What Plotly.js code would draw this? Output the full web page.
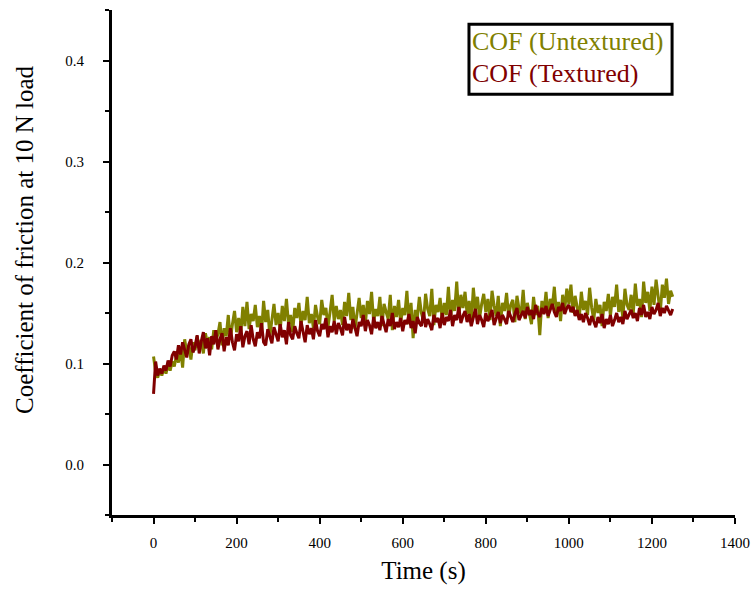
<!DOCTYPE html>
<html>
<head>
<meta charset="utf-8">
<script src="https://cdn.plot.ly/plotly-3.0.1.min.js"></script>
<style>html,body{margin:0;padding:0;background:#fff;}#chart{width:756px;height:593px;}</style>
</head>
<body>
<div id="chart"></div>
<script>
// Sampling of both series (seconds)
const startTime = 0;
const sampleStep = 5;

const seriesNames = ["COF (Untextured)", "COF (Textured)"];

const cofUntextured = [
0.107,0.092,0.086,0.094,0.088,0.096,0.090,0.099,0.093,0.102,
0.097,0.108,0.101,0.115,0.096,0.124,0.110,0.118,0.104,0.121,
0.113,0.127,0.116,0.123,0.110,0.130,0.119,0.126,0.114,0.133,
0.122,0.129,0.141,0.118,0.135,0.127,0.148,0.124,0.139,0.152,
0.131,0.145,0.128,0.156,0.137,0.161,0.134,0.149,0.142,0.158,
0.136,0.147,0.130,0.162,0.141,0.153,0.127,0.144,0.159,0.138,
0.150,0.133,0.157,0.142,0.164,0.139,0.148,0.131,0.155,0.145,
0.160,0.137,0.152,0.143,0.166,0.140,0.149,0.135,0.158,0.146,
0.139,0.163,0.148,0.155,0.136,0.151,0.168,0.142,0.157,0.144,
0.153,0.138,0.161,0.147,0.170,0.143,0.156,0.134,0.150,0.165,
0.145,0.158,0.139,0.162,0.149,0.171,0.141,0.154,0.147,0.166,
0.137,0.159,0.151,0.144,0.168,0.133,0.157,0.146,0.163,0.140,
0.155,0.148,0.172,0.139,0.160,0.125,0.153,0.145,0.166,0.150,
0.142,0.169,0.154,0.147,0.174,0.138,0.158,0.151,0.165,0.143,
0.160,0.148,0.176,0.144,0.163,0.152,0.181,0.146,0.168,0.155,
0.171,0.149,0.162,0.140,0.175,0.153,0.166,0.145,0.159,0.169,
0.151,0.164,0.143,0.172,0.157,0.147,0.167,0.137,0.160,0.152,
0.170,0.146,0.158,0.163,0.141,0.167,0.154,0.149,0.173,0.144,
0.160,0.151,0.139,0.166,0.148,0.157,0.128,0.162,0.150,0.171,
0.145,0.164,0.155,0.176,0.149,0.161,0.142,0.168,0.153,0.174,
0.159,0.178,0.150,0.167,0.156,0.145,0.171,0.153,0.162,0.148,
0.175,0.155,0.143,0.164,0.150,0.158,0.137,0.161,0.152,0.169,
0.147,0.166,0.156,0.178,0.151,0.163,0.145,0.174,0.158,0.153,
0.168,0.149,0.179,0.157,0.164,0.146,0.181,0.160,0.171,0.152,
0.176,0.158,0.183,0.163,0.150,0.178,0.165,0.184,0.159,0.172,
0.166
];

const cofTextured = [
0.070,0.102,0.088,0.095,0.090,0.098,0.093,0.103,0.097,0.108,
0.112,0.104,0.118,0.109,0.121,0.113,0.106,0.119,0.124,0.111,
0.117,0.128,0.110,0.122,0.131,0.115,0.125,0.108,0.127,0.119,
0.133,0.114,0.124,0.130,0.112,0.126,0.118,0.135,0.121,0.113,
0.129,0.122,0.137,0.116,0.127,0.132,0.119,0.138,0.124,0.117,
0.131,0.125,0.140,0.121,0.118,0.134,0.127,0.120,0.136,0.129,
0.122,0.139,0.126,0.133,0.119,0.141,0.128,0.124,0.137,0.130,
0.125,0.142,0.131,0.121,0.138,0.129,0.135,0.124,0.143,0.132,
0.127,0.139,0.134,0.145,0.126,0.137,0.131,0.142,0.129,0.140,
0.135,0.128,0.146,0.133,0.139,0.130,0.144,0.136,0.127,0.141,
0.137,0.148,0.132,0.143,0.138,0.129,0.146,0.135,0.141,0.133,
0.147,0.139,0.131,0.144,0.137,0.150,0.134,0.141,0.136,0.145,
0.132,0.143,0.139,0.149,0.135,0.142,0.130,0.146,0.140,0.137,
0.151,0.136,0.144,0.139,0.133,0.148,0.141,0.145,0.135,0.150,
0.138,0.146,0.142,0.153,0.137,0.148,0.143,0.156,0.140,0.147,
0.152,0.141,0.149,0.137,0.145,0.154,0.139,0.148,0.143,0.136,
0.150,0.142,0.147,0.153,0.138,0.145,0.151,0.140,0.148,0.144,
0.139,0.152,0.146,0.141,0.149,0.155,0.143,0.147,0.152,0.145,
0.156,0.148,0.153,0.144,0.158,0.150,0.146,0.155,0.149,0.157,
0.147,0.153,0.159,0.151,0.146,0.156,0.152,0.160,0.149,0.155,
0.158,0.151,0.156,0.147,0.153,0.143,0.149,0.141,0.150,0.145,
0.138,0.147,0.142,0.136,0.146,0.140,0.149,0.135,0.144,0.139,
0.148,0.137,0.143,0.150,0.141,0.146,0.139,0.152,0.144,0.148,
0.153,0.145,0.150,0.142,0.155,0.148,0.158,0.146,0.151,0.144,
0.156,0.149,0.153,0.160,0.147,0.155,0.150,0.157,0.152,0.148,
0.154
];

const xTickVals = [0, 200, 400, 600, 800, 1000, 1200, 1400];
const yTickVals = [0.0, 0.1, 0.2, 0.3, 0.4];

const olive = "#808000";
const maroon = "#800000";
const serif = "Liberation Serif, Times New Roman, serif";

const traces = [
  {type: "scatter", mode: "lines", name: seriesNames[0], x0: startTime, dx: sampleStep, y: cofUntextured,
   line: {color: olive, width: 3}, showlegend: false},
  {type: "scatter", mode: "lines", name: seriesNames[1], x0: startTime, dx: sampleStep, y: cofTextured,
   line: {color: maroon, width: 3}, showlegend: false}
];

const layout = {
  width: 756, height: 593,
  margin: {l: 112, r: 21, t: 10, b: 78},
  paper_bgcolor: "#fff", plot_bgcolor: "#fff",
  showlegend: false,
  xaxis: {
    range: [-100, 1400], tickvals: xTickVals, ticktext: xTickVals.map(String),
    ticks: "outside", ticklen: 6, tickwidth: 2, tickcolor: "#000",
    minor: {dtick: 100, ticks: "outside", ticklen: 4, tickwidth: 2, tickcolor: "#000"},
    showline: true, linecolor: "#000", linewidth: 3, mirror: false,
    showgrid: false, zeroline: false,
    tickfont: {family: serif, size: 15, color: "#000"},
    ticklabelstandoff: 6,
    title: {text: "Time (s)", font: {family: serif, size: 25, color: "#000"}, standoff: 12}
  },
  yaxis: {
    range: [-0.05, 0.45], tickvals: yTickVals, tickformat: ".1f",
    ticks: "outside", ticklen: 6, tickwidth: 2, tickcolor: "#000",
    minor: {dtick: 0.05, ticks: "outside", ticklen: 4, tickwidth: 2, tickcolor: "#000"},
    showline: true, linecolor: "#000", linewidth: 3, mirror: false,
    showgrid: false, zeroline: false,
    tickfont: {family: serif, size: 15, color: "#000"},
    ticklabelstandoff: 16
  },
  shapes: [
    {type: "rect", xref: "paper", yref: "paper", x0: 0.573, x1: 0.899, y0: 0.833, y1: 0.972,
     line: {color: "#000", width: 3}, fillcolor: "rgba(255,255,255,0)"}
  ],
  annotations: [
    {xref: "paper", yref: "paper", x: -0.1396, y: 0.5446, xanchor: "center", yanchor: "middle", showarrow: false,
     textangle: -90, text: "Coefficient of friction at 10 N load", font: {family: serif, size: 25, color: "#000"}},
    {xref: "paper", yref: "paper", x: 0.575, y: 0.937, xanchor: "left", yanchor: "middle", showarrow: false,
     text: seriesNames[0], font: {family: serif, size: 26, color: olive}},
    {xref: "paper", yref: "paper", x: 0.575, y: 0.874, xanchor: "left", yanchor: "middle", showarrow: false,
     text: seriesNames[1], font: {family: serif, size: 26, color: maroon}}
  ]
};

Plotly.newPlot("chart", traces, layout, {displayModeBar: false, staticPlot: true});
</script>
</body>
</html>
